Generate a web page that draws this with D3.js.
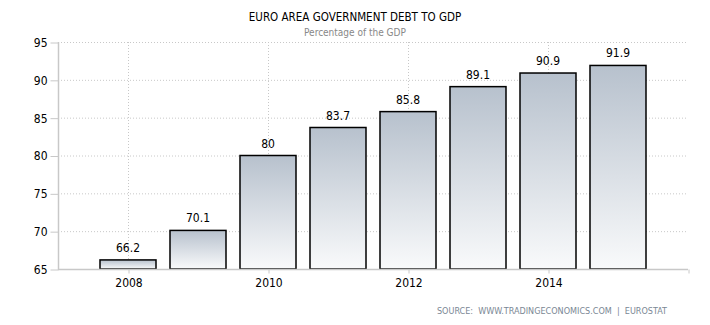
<!DOCTYPE html>
<html><head><meta charset="utf-8">
<script src="https://cdn.jsdelivr.net/npm/d3@7"></script>
<style>body{margin:0;background:#fff}svg{display:block}</style>
</head><body><svg id="c" width="710" height="325"></svg>
<script>
const years = [2008, 2009, 2010, 2011, 2012, 2013, 2014, 2015];
const values = [66.2, 70.1, 80, 83.7, 85.8, 89.1, 90.9, 91.9];
const yTicks = [65, 70, 75, 80, 85, 90, 95];
const xTicks = [2008, 2010, 2012, 2014, 2016];
const xTickLabels = ["2008", "2010", "2012", "2014", ""];
const title = "EURO AREA GOVERNMENT DEBT TO GDP";
const subtitle = "Percentage of the GDP";
const source = "SOURCE:  WWW.TRADINGECONOMICS.COM  |  EUROSTAT";

const svg = d3.select("#c");
const font = "Tahoma, 'DejaVu Sans Condensed', 'DejaVu Sans', sans-serif";
const x = d3.scaleLinear().domain([2007, 2016]).range([58, 688]);
const y = d3.scaleLinear().domain([65, 95]).range([269, 42]);
const barW = 56;

const defs = svg.append("defs");
const g = defs.append("linearGradient").attr("id","bg").attr("x1",0).attr("y1",0).attr("x2",0).attr("y2",1);
g.append("stop").attr("offset","0%").attr("stop-color","#b7c1cd");
g.append("stop").attr("offset","100%").attr("stop-color","#f9fafb");

// grid
svg.append("g").selectAll("line").data(yTicks.slice(1)).join("line")
  .attr("x1",58).attr("x2",688).attr("y1",d=>y(d)+0.5).attr("y2",d=>y(d)+0.5)
  .attr("stroke","#c8c8c8").attr("stroke-dasharray","1,2");
svg.append("g").selectAll("line").data(xTicks.slice(0,4)).join("line")
  .attr("x1",d=>Math.round(x(d))+0.5).attr("x2",d=>Math.round(x(d))+0.5).attr("y1",42).attr("y2",269)
  .attr("stroke","#c8c8c8").attr("stroke-dasharray","1,2");

// y axis
const ya = d3.axisLeft(y).tickValues(yTicks).tickSize(8).tickPadding(3).tickFormat(d3.format("d"));
const yg = svg.append("g").attr("transform","translate(58.5,0.5)").call(ya);
yg.select(".domain").remove();
yg.selectAll(".tick line").attr("stroke","#c8c8c8");
yg.selectAll("text").attr("font-family",font).attr("font-size",12).attr("fill","#000");
svg.append("line").attr("x1",58.5).attr("x2",58.5).attr("y1",42).attr("y2",270).attr("stroke","#c8c8c8").attr("stroke-width",1.5);

// bars
svg.append("g").selectAll("rect").data(values).join("rect")
  .attr("x",(d,i)=>x(years[i])-barW/2).attr("width",barW)
  .attr("y",d=>y(d)).attr("height",d=>y(65)-y(d))
  .attr("fill","url(#bg)").attr("stroke","#000").attr("stroke-width",1.5);

// x axis
const xa = d3.axisBottom(x).tickValues(xTicks).tickSize(4).tickPadding(5).tickFormat((d,i)=>xTickLabels[i]);
const xg = svg.append("g").attr("transform","translate(0.5,269.5)").call(xa);
xg.select(".domain").remove();
xg.selectAll(".tick line").attr("stroke","#c8c8c8");
xg.selectAll("text").attr("font-family",font).attr("font-size",12).attr("fill","#000");
svg.append("line").attr("x1",58).attr("x2",688).attr("y1",269.5).attr("y2",269.5).attr("stroke","#c8c8c8").attr("stroke-width",1.5);

// value labels
svg.append("g").selectAll("text").data(values).join("text")
  .attr("x",(d,i)=>x(years[i])).attr("y",d=>y(d)-8)
  .attr("text-anchor","middle").attr("font-family",font).attr("font-size",12).attr("fill","#000")
  .text(d=>d);

svg.append("text").attr("x",355).attr("y",21).attr("text-anchor","middle")
  .attr("font-family",font).attr("font-size",11.5).attr("fill","#000").text(title);
svg.append("text").attr("x",355).attr("y",36).attr("text-anchor","middle")
  .attr("font-family",font).attr("font-size",10).attr("fill","#888").text(subtitle);
svg.append("text").attr("x",667).attr("y",314).attr("text-anchor","end")
  .attr("font-family",font).attr("font-size",9).attr("fill","#7a8794").text(source).style("white-space","pre");
</script></body></html>
